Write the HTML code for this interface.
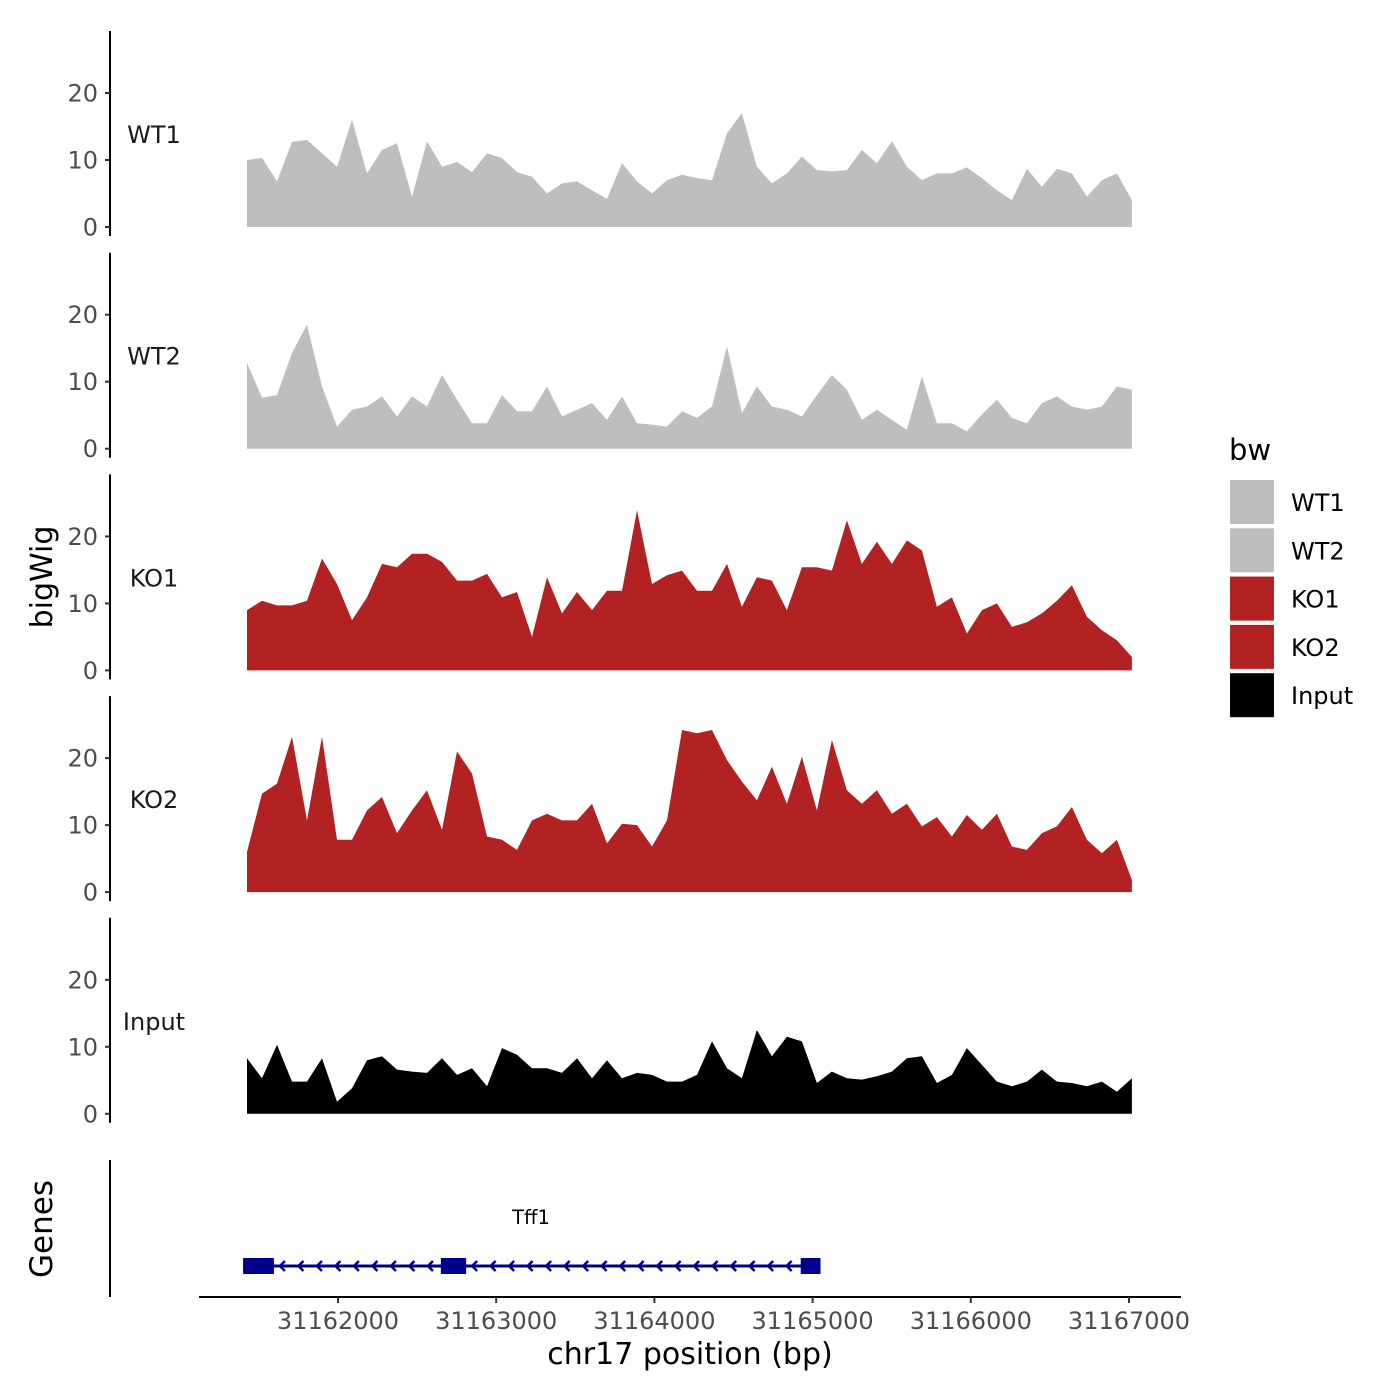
<!DOCTYPE html>
<html><head><meta charset="utf-8">
<style>
html,body{margin:0;padding:0;background:#fff;}
svg{display:block;font-family:"DejaVu Sans","Liberation Sans",sans-serif;}
</style></head>
<body>
<svg id="chart" width="1400" height="1400" viewBox="0 0 1400 1400" xmlns="http://www.w3.org/2000/svg">
<rect width="1400" height="1400" fill="#fff"/>
<g id="tracks"></g>
<g id="genes"></g>
<g id="xaxis"></g>
<g id="legend"></g>
<text x="52" y="577" transform="rotate(-90 52 577)" text-anchor="middle" font-size="30" fill="#000">bigWig</text>
<text x="52" y="1229" transform="rotate(-90 52 1229)" text-anchor="middle" font-size="31" fill="#000">Genes</text>
<text x="690" y="1364" text-anchor="middle" font-size="30" fill="#000">chr17 position (bp)</text>
</svg>
<script>
const trackNames = ["WT1","WT2","KO1","KO2","Input"];
const trackColors = ["#bebebe","#bebebe","#b22222","#b22222","#000000"];
const binStart = 31161425;
const binStep = 94.8;
const wt1 = [10,10.3,6.8,12.7,13,11,9,16,8,11.5,12.5,4.5,12.8,9,9.7,8.2,11,10.3,8.2,7.5,5,6.5,6.8,5.5,4.2,9.5,6.8,5,7,7.8,7.3,7,14,17,9,6.5,8,10.5,8.5,8.3,8.5,11.5,9.5,12.8,9,7,8,8,8.9,7.3,5.5,4,8.7,6,8.7,8,4.5,7,8,4];
const wt2 = [12.8,7.6,8,14.3,18.5,9.3,3.3,5.8,6.3,7.8,4.8,7.8,6.3,11,7.3,3.8,3.8,8,5.6,5.6,9.3,4.8,5.8,6.8,4.3,7.8,3.8,3.6,3.3,5.6,4.6,6.3,15.3,5.3,9.3,6.3,5.8,4.8,8,11,8.8,4.3,5.8,4.3,2.8,10.8,3.8,3.8,2.6,5.1,7.3,4.6,3.8,6.8,7.8,6.3,5.8,6.3,9.3,8.8];
const ko1 = [9,10.4,9.7,9.7,10.4,16.7,12.9,7.5,10.9,15.9,15.4,17.4,17.4,16.2,13.4,13.4,14.4,10.9,11.7,5,13.9,8.5,11.7,9,11.9,11.9,23.9,12.9,14.2,14.9,11.9,11.9,15.9,9.5,13.9,13.4,9,15.4,15.4,14.9,22.4,15.9,19.2,15.9,19.4,17.9,9.5,10.9,5.5,9,10,6.5,7.2,8.5,10.4,12.7,8,6,4.5,2];
const ko2 = [6,14.7,16.2,23.2,10.7,23.2,7.8,7.8,12.2,14.2,8.8,12.2,15.2,9.3,21,17.7,8.3,7.8,6.3,10.7,11.7,10.7,10.7,13.2,7.3,10.2,10,6.8,10.7,24.2,23.7,24.2,19.7,16.5,13.7,18.7,13.2,20.2,12.2,22.7,15.2,13.2,15.2,11.7,13.2,9.8,11.2,8.3,11.5,9.3,11.7,6.8,6.3,8.8,9.8,12.7,7.8,5.8,7.8,1.8];
const input = [8.3,5.3,10.3,4.8,4.8,8.3,1.8,3.8,8,8.6,6.6,6.3,6.1,8.3,5.8,6.8,4.1,9.8,8.8,6.8,6.8,6.1,8.3,5.3,8,5.3,6.1,5.8,4.8,4.8,5.8,10.8,6.8,5.3,12.5,8.6,11.5,10.8,4.6,6.3,5.3,5.1,5.6,6.3,8.3,8.6,4.6,5.8,9.8,7.3,4.8,4.1,4.8,6.6,4.8,4.6,4.1,4.8,3.3,5.3];
const yTicks = [0,10,20];
const xTicks = [31162000,31163000,31164000,31165000,31166000,31167000];
const exonStarts = [31161400,31162650,31164925];
const exonEnds = [31161595,31162810,31165050];
const geneName = "Tff1";

const NS = "http://www.w3.org/2000/svg";
const series = [wt1, wt2, ko1, ko2, input];
function xScale(bp){ return 338 + (bp - 31162000) * 0.1582; }
function baseOf(k){ return 227 + k * 221.7; }
function yScale(k, v){ return baseOf(k) - v * 6.7; }
function mk(tag, attrs){ const e = document.createElementNS(NS, tag); for (const a in attrs) e.setAttribute(a, attrs[a]); return e; }

const tracks = document.getElementById('tracks');
series.forEach((vals, k) => {
  const g = mk('g', {});
  
  
  const b = baseOf(k);
  let d = 'M' + xScale(binStart).toFixed(1) + ',' + b;
  vals.forEach((v, i) => { d += ' L' + xScale(binStart + i * binStep).toFixed(1) + ',' + yScale(k, v).toFixed(1); });
  d += ' L' + xScale(binStart + (vals.length - 1) * binStep).toFixed(1) + ',' + b + ' Z';
  const area = mk('path', {d: d, fill: trackColors[k]});
  
  
  g.appendChild(area);
  const ax = mk('line', {x1: 110, x2: 110, y1: b - 196, y2: b + 9, stroke: '#000', 'stroke-width': 2});
  
  
  g.appendChild(ax);
  yTicks.forEach(t => {
    const y = yScale(k, t);
    const tl = mk('line', {x1: 105, x2: 110, y1: y, y2: y, stroke: '#333', 'stroke-width': 2});
    
    
    g.appendChild(tl);
    const tx = mk('text', {x: 98, y: y + 8.5, 'text-anchor': 'end', 'font-size': 24, fill: '#4d4d4d'});
    tx.textContent = t;
    
    
    g.appendChild(tx);
  });
  const lab = mk('text', {x: 154, y: b - 84, 'text-anchor': 'middle', 'font-size': 24, fill: '#1a1a1a'});
  lab.textContent = trackNames[k];
  
  
  g.appendChild(lab);
  tracks.appendChild(g);
});

// genes
const genes = document.getElementById('genes');
const gax = mk('line', {x1: 110, x2: 110, y1: 1160, y2: 1297, stroke: '#000', 'stroke-width': 2});


genes.appendChild(gax);
const gy = 1266;
const gStart = xScale(exonStarts[0]), gEnd = xScale(exonEnds[exonEnds.length - 1]);
const intron = mk('line', {x1: gStart, x2: gEnd, y1: gy, y2: gy, stroke: '#00008b', 'stroke-width': 3});


genes.appendChild(intron);
for (let i = 0; i < exonStarts.length - 1; i++) {
  const a = xScale(exonEnds[i]), c = xScale(exonStarts[i + 1]);
  for (let x = a + 6; x < c - 4; x += 18.5) {
    const ch = mk('path', {d: 'M' + (x + 5) + ',' + (gy - 5) + ' L' + x + ',' + gy + ' L' + (x + 5) + ',' + (gy + 5), stroke: '#00008b', 'stroke-width': 2.5, fill: 'none'});
    
    
    genes.appendChild(ch);
  }
}
exonStarts.forEach((s, i) => {
  const x0 = xScale(s), x1 = xScale(exonEnds[i]);
  const r = mk('rect', {x: x0, y: gy - 8, width: x1 - x0, height: 16, fill: '#00008b'});
  
  
  genes.appendChild(r);
});
const gl = mk('text', {x: 531, y: 1224, 'text-anchor': 'middle', 'font-size': 19.5, fill: '#000'});
gl.textContent = geneName;


genes.appendChild(gl);

// x axis
const xaxis = document.getElementById('xaxis');
const xl = mk('line', {x1: 199, x2: 1181, y1: 1297, y2: 1297, stroke: '#000', 'stroke-width': 2});


xaxis.appendChild(xl);
xTicks.forEach(t => {
  const x = xScale(t);
  const tl = mk('line', {x1: x, x2: x, y1: 1297, y2: 1303, stroke: '#333', 'stroke-width': 2});
  
  
  xaxis.appendChild(tl);
  const tx = mk('text', {x: x, y: 1329, 'text-anchor': 'middle', 'font-size': 24, fill: '#4d4d4d'});
  tx.textContent = t;
  
  
  xaxis.appendChild(tx);
});

// legend
const legend = document.getElementById('legend');
const lt = mk('text', {x: 1229, y: 460, 'font-size': 29, fill: '#000'});
lt.textContent = 'bw';


legend.appendChild(lt);
trackNames.forEach((n, k) => {
  const y = 480 + k * 48.3;
  const r = mk('rect', {x: 1230, y: y, width: 44, height: 44, fill: trackColors[k]});
  
  
  legend.appendChild(r);
  const t = mk('text', {x: 1291, y: y + 31, 'font-size': 24, fill: '#000'});
  t.textContent = n;
  
  
  legend.appendChild(t);
});
</script>
</body></html>
